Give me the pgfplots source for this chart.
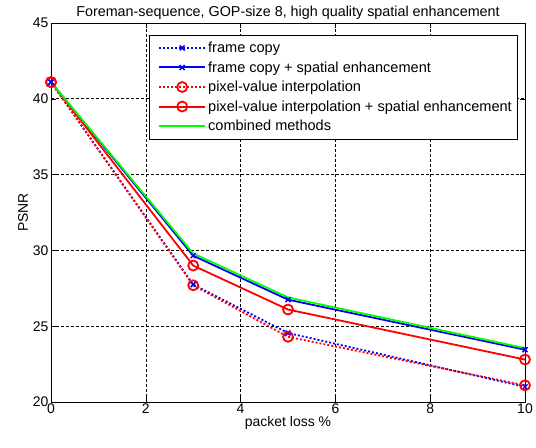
\documentclass[border=0pt]{standalone}
\usepackage{pgfplots}
\pgfplotsset{compat=1.18}
\usepackage{fontspec}
\setmainfont{Liberation Sans}
\begin{document}
\begin{tikzpicture}[x=1bp,y=1bp]
\begin{axis}[
  scale only axis,
  width=474bp, height=379bp,
  xmin=0, xmax=10, ymin=20, ymax=45,
  xtick={0,2,4,6,8,10}, ytick={20,25,30,35,40,45},
  tick align=inside,
  tick style={black, line width=0.5pt},
  major tick length=5bp,
  grid=major,
  grid style={black, dash pattern=on 3bp off 2bp, line width=0.6pt},
  axis line style={black, line width=0.7pt},
  /pgf/number format/assume math mode=true,
  ticklabel style={font=\fontsize{14}{16}\selectfont},
  xticklabel style={yshift=2bp},
  yticklabel style={xshift=1bp},
  xlabel={packet loss \%},
  ylabel={PSNR},
  label style={font=\fontsize{14}{16}\selectfont},
  xlabel style={yshift=4bp},
  ylabel style={yshift=-2bp},
  title={Foreman-sequence, GOP-size 8, high quality spatial enhancement},
  title style={font=\fontsize{14.4}{16}\selectfont, yshift=-6bp},
  legend style={at={(rel axis cs:0.981,0.961)}, anchor=north east,
    font=\fontsize{14.6}{16}\selectfont, draw=none, fill=none,
    row sep=3.5bp, inner sep=2bp},
  legend cell align=left,
  legend image code/.code={\draw[mark repeat=2,mark phase=2,#1] plot coordinates {(0bp,0bp) (23bp,0bp) (46bp,0bp)};},
  legend image post style={line width=2bp},
]
\addplot[blue, line width=1.8pt, dash pattern=on 2bp off 2bp, mark=x, mark size=3.5bp, mark options={solid, line width=1.5pt}]
  coordinates {(0,41.1) (3,27.75) (5,24.55) (10,21.0)};
\addlegendentry{frame copy}
\addplot[blue, line width=1.8pt, mark=x, mark size=3.5bp, mark options={solid, line width=1.5pt}]
  coordinates {(0,41.1) (3,29.65) (5,26.75) (10,23.45)};
\addlegendentry{frame copy + spatial enhancement}
\addplot[red, line width=1.8pt, dash pattern=on 2bp off 2bp, mark=o, mark size=5bp, mark options={solid, line width=1.8pt}]
  coordinates {(0,41.1) (3,27.7) (5,24.3) (10,21.1)};
\addlegendentry{pixel-value interpolation}
\addplot[red, line width=1.8pt, mark=o, mark size=5bp, mark options={solid, line width=1.8pt}]
  coordinates {(0,41.1) (3,29.0) (5,26.1) (10,22.8)};
\addlegendentry{pixel-value interpolation + spatial enhancement}
\addplot[green, line width=1.8pt]
  coordinates {(0,41.1) (3,29.8) (5,26.9) (10,23.55)};
\addlegendentry{combined methods}
\draw[black, line width=1pt, fill=white] (rel axis cs:0.2068,0.6939) rectangle (rel axis cs:0.9852,0.9657);
\coordinate (sw) at (rel axis cs:0,0);
\coordinate (ne) at (rel axis cs:1,1);
\end{axis}
\pgfresetboundingbox
\path (sw) ++(-51bp,-46bp) coordinate (bl);
\path (ne) ++(11bp,23bp) coordinate (tr);
\path[use as bounding box] (bl) rectangle (tr);
\end{tikzpicture}
\end{document}
